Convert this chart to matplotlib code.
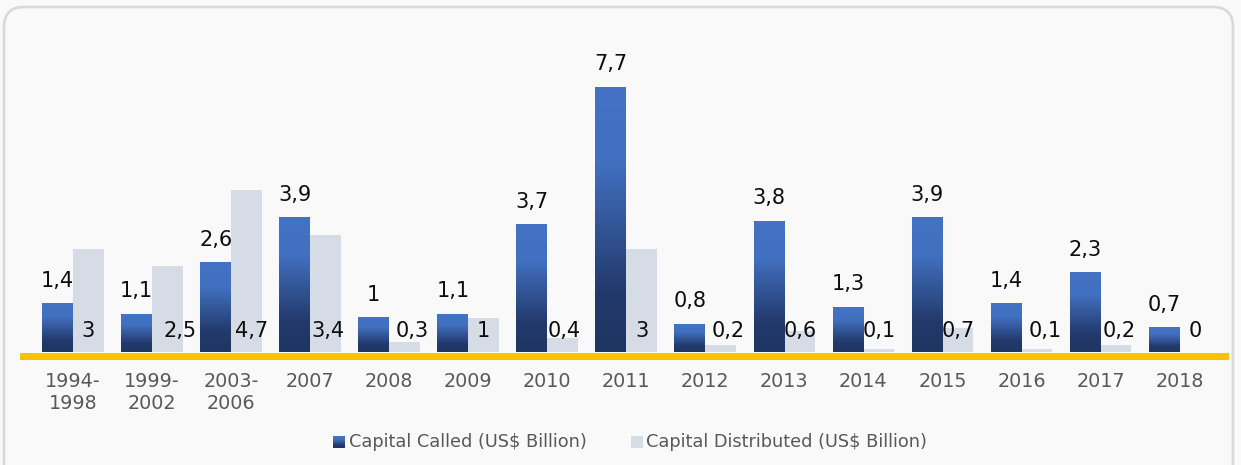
import matplotlib
matplotlib.use("Agg")
import matplotlib.pyplot as plt
import numpy as np
from matplotlib.colors import LinearSegmentedColormap
from matplotlib.patches import FancyBboxPatch, Rectangle

# ---------------- data ----------------
categories = ["1994-\n1998", "1999-\n2002", "2003-\n2006", "2007", "2008", "2009",
              "2010", "2011", "2012", "2013", "2014", "2015", "2016", "2017", "2018"]
called = [1.4, 1.1, 2.6, 3.9, 1, 1.1, 3.7, 7.7, 0.8, 3.8, 1.3, 3.9, 1.4, 2.3, 0.7]
distributed = [3, 2.5, 4.7, 3.4, 0.3, 1, 0.4, 3, 0.2, 0.6, 0.1, 0.7, 0.1, 0.2, 0]
series_names = ["Capital Called (US$ Billion)", "Capital Distributed (US$ Billion)"]

# small horizontal nudges (px) of the distributed-value labels, as in the original
dist_label_dx_px = [0, 13, 5, 2, 8, 0, 2, 0, 7, 0, 0, 0, 8, 3, 0]

# ---------------- style ----------------
W, H, DPI = 1241, 465, 100
BG = "#f9f9f9"
BLUE_TOP = "#4472C4"
BLUE_BOT = "#1f3663"
GREY_BAR = "#D6DCE5"
YELLOW = "#FFC000"
TICK_COL = "#595959"
PX = 72.0 / DPI  # points per pixel

grad_cmap = LinearSegmentedColormap.from_list(
    "bluegrad", [(0.0, BLUE_BOT), (0.22, "#22396b"), (0.72, "#4270c0"), (1.0, BLUE_TOP)])
grad = np.linspace(0, 1, 256).reshape(-1, 1)


def fmt(v):
    return f"{v:g}".replace(".", ",")


fig = plt.figure(figsize=(W / DPI, H / DPI), dpi=DPI, facecolor=BG)

# background / frame layer in pixel coordinates
bg = fig.add_axes([0, 0, 1, 1])
bg.set_xlim(0, W)
bg.set_ylim(H, 0)
bg.axis("off")
bg.set_zorder(0)
bg.add_patch(FancyBboxPatch((4, 7), 1229, 520, boxstyle="round,pad=0,rounding_size=20",
                            fc=BG, ec="#d9d9d9", lw=1.9))

# main axes
ppu = 34.4          # pixels per unit
x0_px, step_px = 73, 79.04
ax = fig.add_axes([20 / W, (H - 360) / H, 1209 / W, 320 / H])
ax.set_zorder(1)
ax.patch.set_alpha(0)
for s in ax.spines.values():
    s.set_visible(False)

x = np.arange(len(categories))
bw = 0.39
b_called = ax.bar(x - 0.195, called, bw, color=BLUE_TOP, zorder=2)
b_dist = ax.bar(x + 0.195, distributed, bw, color=GREY_BAR, zorder=1)

for r in b_called:
    if r.get_height() > 0:
        ax.imshow(grad, cmap=grad_cmap, origin="lower", aspect="auto",
                  extent=[r.get_x(), r.get_x() + r.get_width(), 0, r.get_height()],
                  zorder=2.5, interpolation="bilinear")

ax.set_xlim((20 - x0_px) / step_px, (1229 - x0_px) / step_px)
ax.set_ylim(-8 / ppu, 312 / ppu)

ax.axhline(-3.5 / ppu, color=YELLOW, lw=7 * PX, zorder=4)

for r, v in zip(b_called, called):
    ax.annotate(fmt(v), (r.get_x() + r.get_width() / 2, v), xytext=(0, 17 * PX),
                textcoords="offset points", ha="center", va="baseline",
                fontsize=15, color="#0d0d0d", zorder=5)

for r, v, dx in zip(b_dist, distributed, dist_label_dx_px):
    ax.annotate(fmt(v), (r.get_x() + r.get_width() / 2, 0), xytext=(dx * PX, 15 * PX),
                textcoords="offset points", ha="center", va="baseline",
                fontsize=15, color="#0d0d0d", zorder=5)

ax.set_yticks([])
ax.set_xticks(x)
ax.set_xticklabels(categories, fontsize=13.8, color=TICK_COL)
ax.tick_params(axis="x", length=0, pad=8.5)

# legend (manual, so the first swatch can carry the gradient)
bg.imshow(grad, cmap=grad_cmap, origin="lower", aspect="auto",
          extent=[333, 345, 448, 436], zorder=3)
bg.add_patch(Rectangle((631, 436), 12, 12, fc=GREY_BAR, ec="none", zorder=3))
bg.text(349, 442, series_names[0], fontsize=12.8, color=TICK_COL, va="center", ha="left")
bg.text(646, 442, series_names[1], fontsize=12.8, color=TICK_COL, va="center", ha="left")
bg.set_xlim(0, W)
bg.set_ylim(H, 0)

fig.savefig("out.png", dpi=DPI, facecolor=BG)
